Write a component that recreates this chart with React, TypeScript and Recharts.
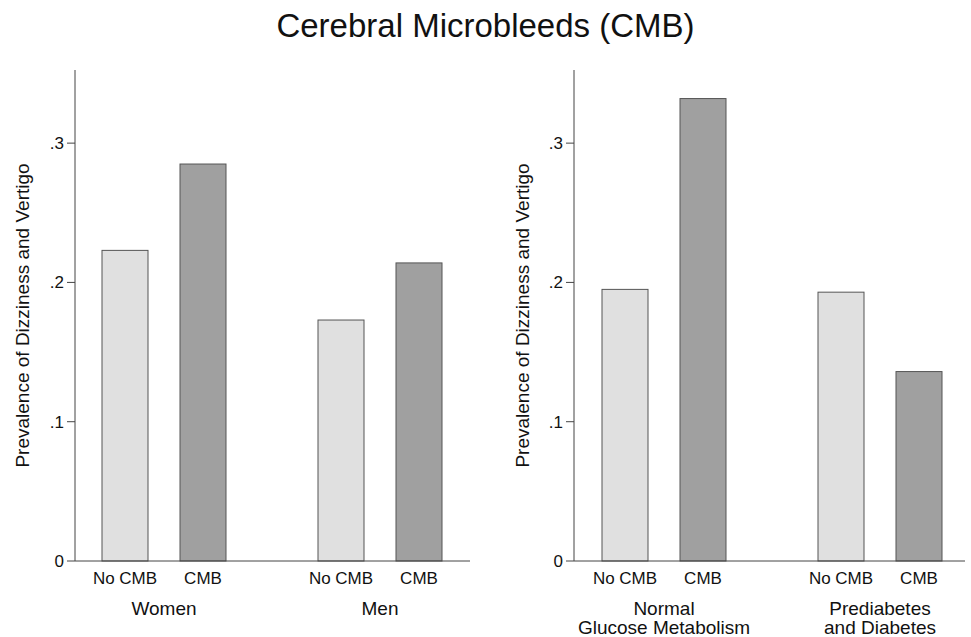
import { BarChart, Bar, XAxis, YAxis } from "recharts"

const sexGroups = ["Women", "Men"]
const sexNoCmb = [0.223, 0.173]
const sexCmb = [0.285, 0.214]

const glucoseGroups = ["Normal\nGlucose Metabolism", "Prediabetes\nand Diabetes"]
const glucoseNoCmb = [0.195, 0.193]
const glucoseCmb = [0.332, 0.136]

const yTicks = [0, 0.1, 0.2, 0.3]
const seriesNames = ["No CMB", "CMB"]

const FONT = "'Liberation Sans', Arial, sans-serif"
const INK = "#111"

const formatTick = (v: number) => (v === 0 ? "0" : String(v).replace(/^0/, ""))

// bar rect plus its series name printed just under the baseline
const makeShape = (label: string, fill: string) => (props: any) => {
  const { x, y, width, height } = props
  return (
    <g>
      <rect x={x} y={y} width={width} height={height} fill={fill} stroke="#555" strokeWidth={1} />
      <text
        x={x + width / 2}
        y={y + height + 23}
        textAnchor="middle"
        fontSize={17}
        fontFamily={FONT}
        fill={INK}
      >
        {label}
      </text>
    </g>
  )
}

const GroupTick = (props: any) => {
  const { x, y, payload } = props
  const lines = String(payload.value).split("\n")
  return (
    <text x={x} y={y} textAnchor="middle" fontSize={19} fontFamily={FONT} fill={INK}>
      {lines.map((line, i) => (
        <tspan key={i} x={x} dy={i === 0 ? 54 : 19}>
          {line}
        </tspan>
      ))}
    </text>
  )
}

const YLabel = (props: any) => {
  const vb = props.viewBox || {}
  const cy = (vb.y ?? 70) + (vb.height ?? 491) / 2
  const cx = 22
  return (
    <text
      x={cx}
      y={cy}
      transform={`rotate(-90 ${cx} ${cy})`}
      textAnchor="middle"
      dominantBaseline="central"
      fontSize={19}
      fontFamily={FONT}
      fill={INK}
    >
      Prevalence of Dizziness and Vertigo
    </text>
  )
}

interface PanelProps {
  groups: string[]
  noCmb: number[]
  cmb: number[]
  width: number
  axisWidth: number
  rightMargin: number
  padLeft: number
  padRight: number
}

function Panel({ groups, noCmb, cmb, width, axisWidth, rightMargin, padLeft, padRight }: PanelProps) {
  const data = groups.map((g, i) => ({ group: g, noCmb: noCmb[i], cmb: cmb[i] }))
  return (
    <BarChart
      width={width}
      height={637}
      data={data}
      margin={{ top: 70, right: rightMargin, bottom: 0, left: 0 }}
      barSize={46}
      barGap={32}
    >
      <XAxis
        dataKey="group"
        height={76}
        tickLine={false}
        tickSize={0}
        tickMargin={0}
        padding={{ left: padLeft, right: padRight }}
        axisLine={{ stroke: "#444", strokeWidth: 1 }}
        tick={<GroupTick />}
        interval={0}
      />
      <YAxis
        width={axisWidth}
        domain={[0, 0.3525]}
        ticks={yTicks}
        tickFormatter={formatTick}
        tickSize={8}
        tickMargin={3}
        axisLine={{ stroke: "#444", strokeWidth: 1 }}
        tickLine={{ stroke: "#444", strokeWidth: 1 }}
        tick={{ fontSize: 17, fill: INK, fontFamily: FONT }}
        label={{ content: <YLabel /> }}
      />
      <Bar dataKey="noCmb" isAnimationActive={false} shape={makeShape(seriesNames[0], "#e0e0e0")} />
      <Bar dataKey="cmb" isAnimationActive={false} shape={makeShape(seriesNames[1], "#a0a0a0")} />
    </BarChart>
  )
}

export default function App() {
  return (
    <div
      style={{
        position: "absolute",
        left: 0,
        top: 0,
        width: 971,
        height: 637,
        background: "#fff",
        fontFamily: FONT,
      }}
    >
      <div
        style={{
          position: "absolute",
          top: 9,
          left: 0,
          width: 971,
          textAlign: "center",
          fontSize: 33,
          lineHeight: "33px",
          color: INK,
        }}
      >
        Cerebral Microbleeds (CMB)
      </div>
      <div style={{ position: "absolute", left: 0, top: 0 }}>
        <Panel
          groups={sexGroups}
          noCmb={sexNoCmb}
          cmb={sexCmb}
          width={480}
          axisWidth={75}
          rightMargin={10}
          padLeft={-19}
          padRight={-18}
        />
      </div>
      <div style={{ position: "absolute", left: 500, top: 0 }}>
        <Panel
          groups={glucoseGroups}
          noCmb={glucoseNoCmb}
          cmb={glucoseCmb}
          width={471}
          axisWidth={74}
          rightMargin={6}
          padLeft={-18}
          padRight={-23}
        />
      </div>
    </div>
  )
}
